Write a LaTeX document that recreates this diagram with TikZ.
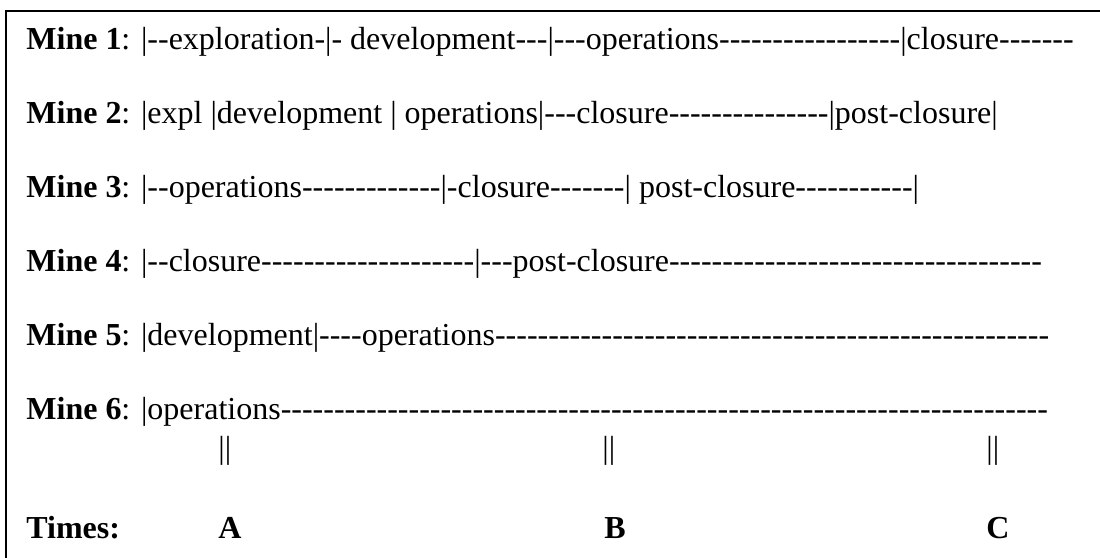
\documentclass[tikz,border=0pt]{standalone}
\usepackage{fontspec}
\setmainfont{Liberation Serif}[Ligatures=TeXOff]

\tikzset{
    row/.style = {anchor = base west, inner sep = 0pt, font = \fontsize{16pt}{19pt}\selectfont},
    frameline/.style = {line width = 1pt}
}

\begin{document}
\begin{tikzpicture}

        \useasboundingbox (0pt, 0pt) rectangle (550pt, -279pt);

        % frame, only top and left edge
        \draw [frameline] (550pt, -5.5pt) -- (3pt, -5.5pt) -- (3pt, -279pt);

        % one row per mine
        \node [row] (mine1) at (13pt, -24.5pt) {\textbf{Mine 1}: |--exploration-|- development---|---operations-----------------|closure-------};
        \node [row] (mine2) at (13pt, -61.5pt) {\textbf{Mine 2}: |expl |development | operations|---closure---------------|post-closure|};
        \node [row] (mine3) at (13pt, -98.5pt) {\textbf{Mine 3}: |--operations-------------|-closure-------| post-closure-----------|};
        \node [row] (mine4) at (13pt, -135.5pt) {\textbf{Mine 4}: |--closure--------------------|---post-closure-----------------------------------};
        \node [row] (mine5) at (13pt, -172.5pt) {\textbf{Mine 5}: |development|----operations----------------------------------------------------};
        \node [row] (mine6) at (13pt, -209.5pt) {\textbf{Mine 6}: |operations------------------------------------------------------------------------};

        % time marks
        \node [row] (barA) at (109pt, -229pt) {||};
        \node [row] (barB) at (301pt, -229pt) {||};
        \node [row] (barC) at (493pt, -229pt) {||};

        \node [row] (times) at (13pt, -269pt) {\textbf{Times:}};
        \node [row] (tA) at (109pt, -269pt) {\textbf{A}};
        \node [row] (tB) at (302pt, -269pt) {\textbf{B}};
        \node [row] (tC) at (493pt, -269pt) {\textbf{C}};

    \end{tikzpicture}
\end{document}
